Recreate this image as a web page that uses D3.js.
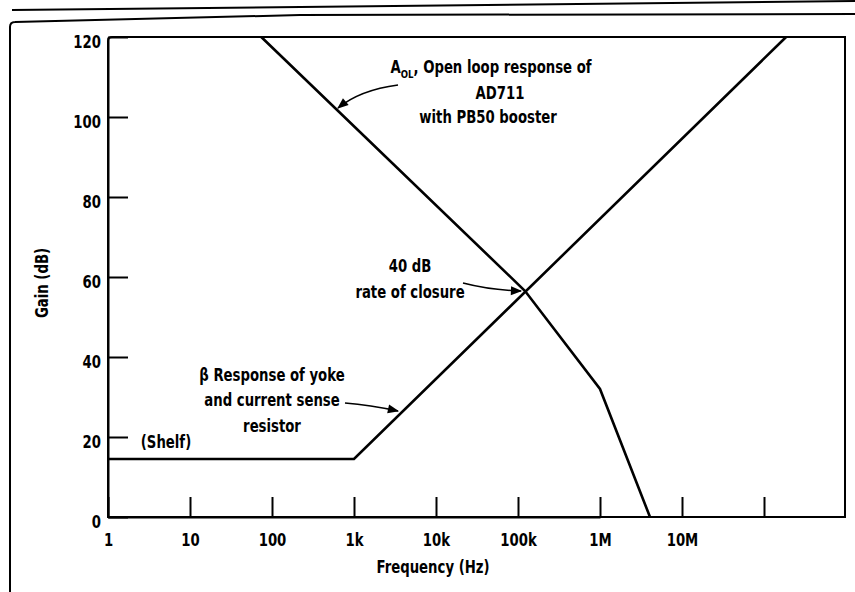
<!DOCTYPE html>
<html>
<head>
<meta charset="utf-8">
<script src="https://cdnjs.cloudflare.com/ajax/libs/d3/7.8.5/d3.min.js"></script>
<style>
  body { margin: 0; background: #fff; }
  svg { display: block; }
  text { font-family: "DejaVu Sans", sans-serif; font-weight: bold; fill: #000; }
</style>
</head>
<body>
<div id="chart"></div>
<script>
var width = 855;
var height = 592;

// A_OL open loop response (Hz, dB)
var aolFreq = [74, 122000, 1000000, 4070000];
var aolGain = [120, 56.5, 32, 0];

// beta response of yoke + sense resistor
var betaFreq = [1, 1000, 186000000];
var betaGain = [14.5, 14.5, 120];

var xTicks = [1, 10, 100, 1e3, 1e4, 1e5, 1e6, 1e7, 1e8];
var xTickLabels = ["1", "10", "100", "1k", "10k", "100k", "1M", "10M", ""];
var yTicks = [0, 20, 40, 60, 80, 100, 120];

var margin = {left: 108, top: 37, right: 845, bottom: 517};
var squeeze = 0.78; // condensed look of the original lettering

// 1 Hz -> 108px, 1 MHz -> 600px
var xScale = d3.scaleLog().domain([1, 1e6]).range([108, 600]);
var yScale = d3.scaleLinear().domain([0, 120]).range([margin.bottom, margin.top]);

var svg = d3.select("#chart")
            .append("svg")
            .attr("width", width)
            .attr("height", height);

svg.append("rect").attr("width", width).attr("height", height).attr("fill", "#fff");

function addText(x, y, str, size) {
  return svg.append("text")
     .attr("transform", "translate(" + x + "," + y + ") scale(" + squeeze + ",1)")
     .attr("text-anchor", "middle")
     .style("font-size", (size || 17) + "px")
     .text(str);
}

// scanned page border lines
svg.append("path")
   .attr("d", "M12,10 L855,1")
   .attr("fill", "none").attr("stroke", "#000").attr("stroke-width", 2);
svg.append("path")
   .attr("d", "M10,592 L10,27 Q10,22 15,22 L300,15 L855,14")
   .attr("fill", "none").attr("stroke", "#000").attr("stroke-width", 2);

// plot frame
svg.append("path")
   .attr("d", "M" + margin.left + "," + margin.bottom +
              " L" + margin.left + "," + (margin.top + 4) +
              " Q" + margin.left + "," + margin.top + " " + (margin.left + 4) + "," + margin.top +
              " L" + margin.right + "," + margin.top +
              " L" + margin.right + "," + margin.bottom + " Z")
   .attr("fill", "none").attr("stroke", "#000").attr("stroke-width", 2);

// axes
var xAxis = d3.axisBottom(xScale)
              .tickValues(xTicks)
              .tickSizeInner(-20)
              .tickSizeOuter(0)
              .tickPadding(14)
              .tickFormat(function(d, i) { return xTickLabels[i]; });

var yAxis = d3.axisLeft(yScale)
              .tickValues(yTicks)
              .tickSizeInner(-20)
              .tickSizeOuter(0)
              .tickPadding(9);

var gx = svg.append("g")
   .attr("transform", "translate(0," + margin.bottom + ")")
   .call(xAxis);
var gy = svg.append("g")
   .attr("transform", "translate(" + margin.left + ",0)")
   .call(yAxis);

[gx, gy].forEach(function(g) {
  g.select(".domain").attr("stroke-width", 2);
  g.selectAll(".tick line").attr("stroke-width", 2);
  g.selectAll(".tick text")
   .style("font-size", "17px")
   .style("font-family", "DejaVu Sans")
   .style("font-weight", "bold")
   .attr("transform", "scale(" + squeeze + ",1)");
});
gy.selectAll(".tick text").attr("dy", "0.6em");
gx.selectAll(".tick text").attr("dy", "0.9em");

// curves
var line = d3.line()
             .x(function(d) { return xScale(d[0]); })
             .y(function(d) { return yScale(d[1]); });

svg.append("path")
   .datum(d3.zip(aolFreq, aolGain))
   .attr("d", line)
   .attr("fill", "none").attr("stroke", "#000").attr("stroke-width", 2.6);

svg.append("path")
   .datum(d3.zip(betaFreq, betaGain))
   .attr("d", line)
   .attr("fill", "none").attr("stroke", "#000").attr("stroke-width", 2.6);

// axis titles
addText(433, 573, "Frequency (Hz)");

svg.append("text")
   .attr("transform", "translate(48,283) rotate(-90) scale(" + squeeze + ",1)")
   .attr("text-anchor", "middle")
   .style("font-size", "17px")
   .text("Gain (dB)");

// annotations
svg.append("defs").append("marker")
   .attr("id", "arrow")
   .attr("viewBox", "0 0 10 10")
   .attr("refX", 9).attr("refY", 5)
   .attr("markerWidth", 9).attr("markerHeight", 7)
   .attr("orient", "auto")
   .append("path")
   .attr("d", "M0,1 L10,5 L0,9 Z")
   .attr("fill", "#000");

var t1 = addText(491, 73, "");
t1.append("tspan").text("A");
t1.append("tspan").attr("dy", 5).style("font-size", "11px").text("OL");
t1.append("tspan").attr("dy", -5).text(", Open loop response of");

addText(500, 99, "AD711");
addText(488, 123, "with PB50  booster");

svg.append("path")
   .attr("d", "M398,85 Q360,90 338,108")
   .attr("fill", "none").attr("stroke", "#000").attr("stroke-width", 1.6)
   .attr("marker-end", "url(#arrow)");

addText(410, 272, "40 dB");
addText(410, 298, "rate of closure");

svg.append("path")
   .attr("d", "M463,283 Q490,290 521,291")
   .attr("fill", "none").attr("stroke", "#000").attr("stroke-width", 1.6)
   .attr("marker-end", "url(#arrow)");

addText(272, 381, "\u03B2 Response of yoke");
addText(272, 406, "and current sense");
addText(272, 432, "resistor");

svg.append("path")
   .attr("d", "M345,403 Q370,405 398,411")
   .attr("fill", "none").attr("stroke", "#000").attr("stroke-width", 1.6)
   .attr("marker-end", "url(#arrow)");

addText(166, 448, "(Shelf)");
</script>
</body>
</html>
